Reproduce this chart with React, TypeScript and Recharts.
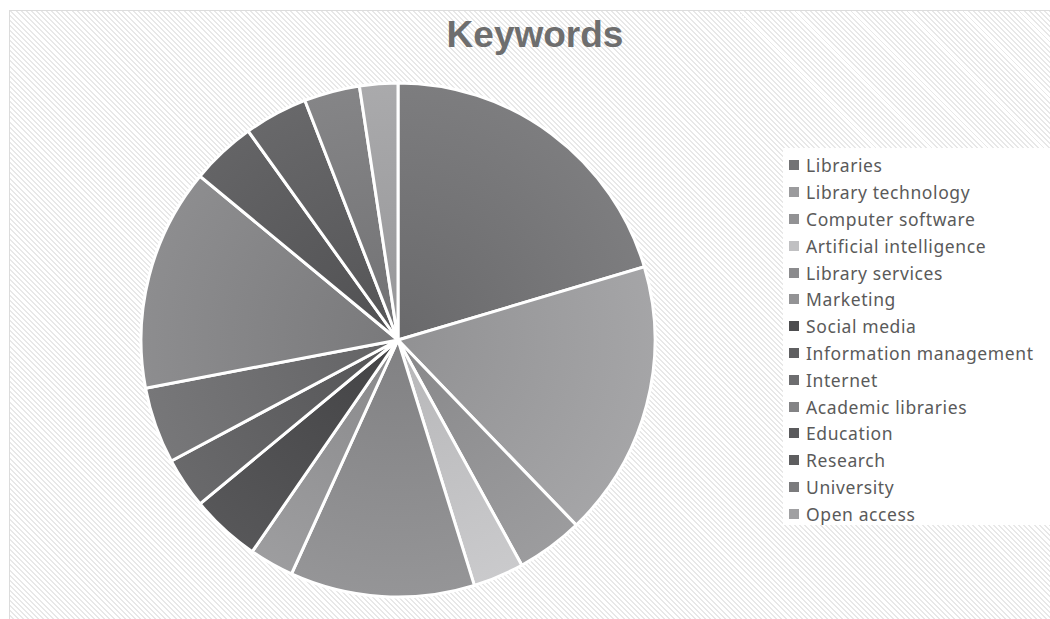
import { PieChart, Pie, Cell, Legend } from "recharts";

const keywords = [
  "Libraries",
  "Library technology",
  "Computer software",
  "Artificial intelligence",
  "Library services",
  "Marketing",
  "Social media",
  "Information management",
  "Internet",
  "Academic libraries",
  "Education",
  "Research",
  "University",
  "Open access",
];

const shares = [20.4, 17.4, 4.2, 3.2, 11.6, 2.8, 4.4, 3.2, 4.8, 14.0, 4.1, 4.0, 3.5, 2.4];

const colors = [
  "#737375",
  "#9b9b9d",
  "#929294",
  "#c0c0c2",
  "#8b8b8d",
  "#939395",
  "#4d4d4f",
  "#5f5f61",
  "#6d6d6f",
  "#838385",
  "#5a5a5c",
  "#5e5e60",
  "#7b7b7d",
  "#a0a0a2",
];

const data = keywords.map((name, i) => ({ name, value: shares[i] }));

function shade(hex: string, amt: number) {
  const n = parseInt(hex.slice(1), 16);
  const c = (v: number) => Math.max(0, Math.min(255, Math.round(v + amt)));
  const r = c((n >> 16) & 255);
  const g = c((n >> 8) & 255);
  const b = c(n & 255);
  return `rgb(${r},${g},${b})`;
}

function KeywordLegend() {
  return (
    <div
      style={{
        background: "#ffffff",
        padding: "4px 0 0 6px",
        height: 377,
        boxSizing: "border-box",
        fontFamily: "'Noto Sans', sans-serif",
        fontSize: 17.5,
        letterSpacing: 0.6,
        color: "#5a5a5a",
      }}
    >
      {keywords.map((k, i) => (
        <div
          key={k}
          style={{ display: "flex", alignItems: "center", height: 26.8 }}
        >
          <span
            style={{
              width: 10,
              height: 10,
              background: colors[i],
              marginRight: 7,
              flexShrink: 0,
            }}
          />
          <span style={{ whiteSpace: "nowrap" }}>{k}</span>
        </div>
      ))}
    </div>
  );
}

export default function App() {
  return (
    <div
      style={{
        position: "absolute",
        left: 0,
        top: 0,
        width: 1050,
        height: 619,
        background: "#ffffff",
      }}
    >
      <div
        style={{
          position: "absolute",
          left: 9,
          top: 10,
          width: 1041,
          height: 609,
          borderLeft: "1px solid #dcdcdc",
          borderTop: "1px solid #dcdcdc",
          background:
            "repeating-linear-gradient(45deg, #ffffff 0px, #ffffff 2.2px, #e8e8e8 2.2px, #e8e8e8 3.6px)",
        }}
      />
      <div
        style={{
          position: "absolute",
          left: 0,
          top: 14,
          width: 1050,
          textAlign: "center",
          paddingLeft: 20,
          boxSizing: "border-box",
          fontFamily: "'Liberation Sans', Arial, sans-serif",
          fontWeight: 700,
          fontSize: 37,
          color: "#6e6e6e",
        }}
      >
        Keywords
      </div>
      <div style={{ position: "absolute", left: 0, top: 0 }}>
        <PieChart
          width={1050}
          height={619}
          margin={{ top: 0, right: 0, bottom: 0, left: 0 }}
        >
          <defs>
            {colors.map((c, i) => (
              <radialGradient
                key={i}
                id={`kw${i}`}
                gradientUnits="userSpaceOnUse"
                cx={398}
                cy={340}
                r={257}
              >
                <stop offset="0%" stopColor={shade(c, -10)} />
                <stop offset="100%" stopColor={shade(c, 10)} />
              </radialGradient>
            ))}
          </defs>
          <Pie
            data={data}
            dataKey="value"
            nameKey="name"
            cx={398}
            cy={340}
            outerRadius={257}
            startAngle={90}
            endAngle={-270}
            stroke="#ffffff"
            strokeWidth={3}
            isAnimationActive={false}
          >
            {data.map((d, i) => (
              <Cell key={d.name} fill={`url(#kw${i}) ${colors[i]}`} />
            ))}
          </Pie>
          <Legend
            content={<KeywordLegend />}
            wrapperStyle={{ left: 783, top: 148, width: 267, height: 377 }}
          />
        </PieChart>
      </div>
    </div>
  );
}
